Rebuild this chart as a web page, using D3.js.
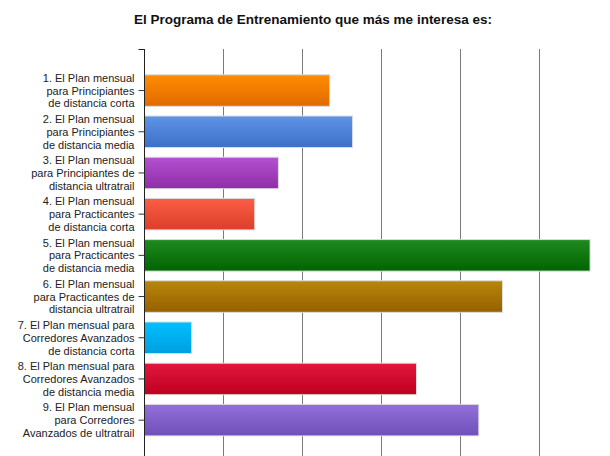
<!DOCTYPE html>
<html><head><meta charset="utf-8">
<script src="https://cdn.jsdelivr.net/npm/d3@7"></script>
<style>body{margin:0;background:#fff}svg{display:block}</style>
</head><body>
<script>
const title = "El Programa de Entrenamiento que más me interesa es:";
const categories = [
  ["1. El Plan mensual","para Principiantes","de distancia corta"],
  ["2. El Plan mensual","para Principiantes","de distancia media"],
  ["3. El Plan mensual","para Principiantes de","distancia ultratrail"],
  ["4. El Plan mensual","para Practicantes","de distancia corta"],
  ["5. El Plan mensual","para Practicantes","de distancia media"],
  ["6. El Plan mensual","para Practicantes de","distancia ultratrail"],
  ["7. El Plan mensual para","Corredores Avanzados","de distancia corta"],
  ["8. El Plan mensual para","Corredores Avanzados","de distancia media"],
  ["9. El Plan mensual","para Corredores","Avanzados de ultratrail"]
];
const values = [23.6, 26.5, 17.1, 14.1, 56.6, 45.5, 6.1, 34.6, 42.5];
const gridTicks = [10, 20, 30, 40, 50];
const colorsTop = ["#ff8c00","#5e95e8","#b550d2","#fc5d45","#1f8a1f","#b8860b","#00c0ff","#e2163e","#9370db"];
const colorsBottom = ["#e06a00","#3e6fc8","#8e2ea6","#da3f2a","#006400","#976000","#009fe0","#bf0020","#6f4fb8"];

const W = 610, H = 456;
const svg = d3.select("body").append("svg").attr("width", W).attr("height", H);
const idx = categories.map((d,i)=>i);

const x = d3.scaleLinear().domain([0, 60]).range([144, 617.4]);
const y = d3.scaleBand().domain(idx).range([69.95, 440.75]).paddingInner(0.211).paddingOuter(0.1055);

const defs = svg.append("defs");
idx.forEach(i => {
  const g = defs.append("linearGradient").attr("id","g"+i).attr("x1",0).attr("y1",0).attr("x2",0).attr("y2",1);
  g.append("stop").attr("offset","0%").attr("stop-color",colorsTop[i]);
  g.append("stop").attr("offset","100%").attr("stop-color",colorsBottom[i]);
});

svg.append("text").attr("x", 313).attr("y", 24).attr("text-anchor","middle")
  .attr("font-family","Liberation Sans, Arial, sans-serif").attr("font-weight","bold")
  .attr("font-size", 13.5).attr("fill","#111").text(title);

// gridlines
svg.append("g").selectAll("line").data(gridTicks).join("line")
  .attr("x1", d=>Math.round(x(d))+0.5).attr("x2", d=>Math.round(x(d))+0.5)
  .attr("y1", 49).attr("y2", H)
  .attr("stroke","#7a7a7a").attr("stroke-width",1);

// bars
svg.append("g").selectAll("rect").data(idx).join("rect")
  .attr("x", x(0)+0.5).attr("y", i=>y(i)+0.5)
  .attr("width", i=>x(values[i])-x(0)-1).attr("height", y.bandwidth()-1)
  .attr("fill", i=>"url(#g"+i+")")
  .attr("stroke","#dcdcdc").attr("stroke-width",1);

// y axis
const yAxis = d3.axisLeft(y).tickSize(6).tickSizeOuter(0).tickFormat("");
const ag = svg.append("g").attr("transform","translate(144.5,0)").call(yAxis);
ag.select(".domain").remove();
ag.selectAll(".tick line").attr("stroke","#333");
ag.append("line").attr("x1",0).attr("x2",0).attr("y1",49).attr("y2",H).attr("stroke","#222");
ag.append("line").attr("x1",-6).attr("x2",0).attr("y1",49.5).attr("y2",49.5).attr("stroke","#222");

ag.selectAll(".tick").each(function(i){
  const t = d3.select(this).append("text")
    .attr("x", -10).attr("text-anchor","end").attr("fill","#222")
    .attr("font-family","Liberation Sans, Arial, sans-serif").attr("font-size", 11);
  categories[i].forEach((line,k)=>{
    t.append("tspan").attr("x",-10).attr("y", (k-1)*12.8 + 4).text(line);
  });
});
</script>
</body></html>
